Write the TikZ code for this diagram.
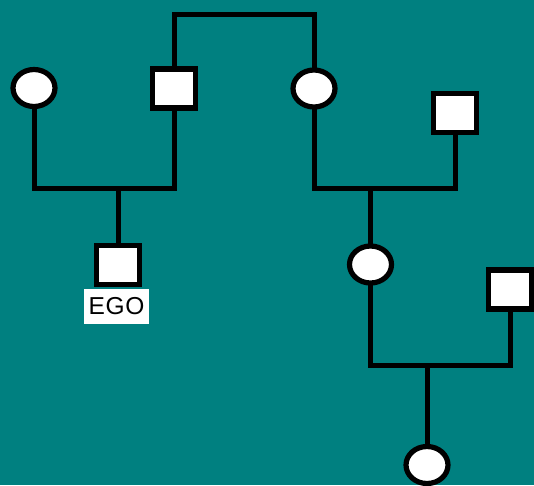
\documentclass[tikz,border=0pt]{standalone}
\usepackage{fontspec}
\setmainfont{Liberation Sans}
\usetikzlibrary{shapes.geometric}
\definecolor{teal80}{HTML}{008080}
\begin{document}
\begin{tikzpicture}[x=1pt,y=-1pt,
  female/.style={ellipse,draw=black,fill=white,line width=5.2pt,minimum width=42pt,minimum height=37pt,inner sep=0pt,outer sep=0pt},
  male/.style={rectangle,draw=black,fill=white,line width=5.2pt,minimum width=43pt,minimum height=39pt,inner sep=0pt,outer sep=0pt},
  link/.style={draw=black,line width=5pt,line join=miter},
  lbl/.style={fill=white,minimum width=65pt,minimum height=35pt,inner sep=0pt,font=\fontsize{24.5}{24.5}\selectfont\addfontfeature{LetterSpace=3}}]
\fill[teal80] (0,0) rectangle (534,485);
\useasboundingbox (0,0) rectangle (534,485);
\node[female] (c1) at (34,88) {};
\node[male] (s1) at (174,88.5) {};
\node[female] (c2) at (314,88.5) {};
\node[male] (s2) at (455,113) {};
\node[male] (ego) at (118,265) {};
\node[lbl] (egol) at (116.5,306.5) {EGO};
\node[female] (c3) at (370.5,264.5) {};
\node[male] (s3) at (510,289.5) {};
\node[female] (c4) at (427,465) {};
\coordinate (top) at (244,14);
\coordinate (j1) at (118,188);
\coordinate (j2) at (370.5,188);
\coordinate (j3) at (427,365);
\path[link] (s1.north) |- (top) -| (c2.north);
\path[link] (c1.south) |- (j1) -| (s1.south);
\path[link] (j1) -- (ego.north);
\path[link] (c2.south) |- (j2) -| (s2.south);
\path[link] (j2) -- (c3.north);
\path[link] (c3.south) |- (j3) -| (s3.south);
\path[link] (j3) -- (c4.north);
\end{tikzpicture}
\end{document}
